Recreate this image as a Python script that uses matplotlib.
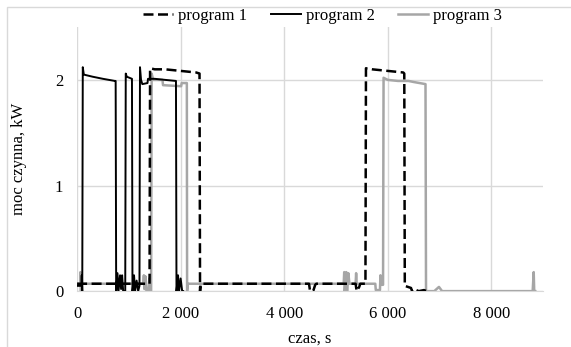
import matplotlib
matplotlib.use("Agg")
import matplotlib.pyplot as plt
from matplotlib.ticker import FuncFormatter, MultipleLocator
from matplotlib.patches import Rectangle

# program 1 (dashed black)
t1 = [0, 1400, 1410, 1500, 1700, 1900, 2100, 2300, 2365, 2375, 2390,
      3000, 3500, 4000, 4480, 4500, 4560, 4600, 4620, 5000, 5380, 5400,
      5450, 5470, 5570, 5580, 5700, 5900, 6100, 6300, 6320, 6330, 6450,
      6470, 6500, 6600, 6700, 6750]
p1 = [0.07, 0.07, 2.11, 2.10, 2.10, 2.09, 2.08, 2.07, 2.06, 0.0, 0.07,
      0.07, 0.07, 0.07, 0.07, 0.0, 0.0, 0.06, 0.07, 0.07, 0.07, 0.0,
      0.04, 0.07, 0.07, 2.11, 2.10, 2.09, 2.08, 2.07, 2.06, 0.05, 0.03,
      0.0, 0.02, 0.0, 0.01, 0.0]

# program 2 (solid black)
t2 = [0, 80, 90, 100, 110, 130, 300, 500, 730, 745, 755, 780, 800, 830,
      850, 870, 890, 930, 940, 960, 1060, 1070, 1100, 1120, 1150, 1180,
      1205, 1215, 1235, 1260, 1360, 1370, 1500, 1700, 1910, 1920, 1950,
      1970, 2000, 2030, 2050]
p2 = [0.05, 0.05, 0.15, 0.0, 2.12, 2.05, 2.03, 2.01, 1.99, 1.99, 0.0,
      0.17, 0.0, 0.15, 0.02, 0.15, 0.0, 0.0, 2.06, 2.03, 2.01, 0.0, 0.15,
      0.0, 0.1, 0.0, 0.05, 2.12, 2.0, 1.96, 1.97, 2.01, 2.01, 2.0, 1.99,
      0.0, 0.15, 0.0, 0.12, 0.0, 0.0]

# program 3 (grey)
t3 = [0, 60, 65, 75, 85, 95, 1280, 1290, 1300, 1320, 1340, 1380, 1395,
      1410, 1430, 1440, 1470, 1650, 1660, 2010, 2020, 2120, 2125, 2140,
      3000, 4000, 5150, 5160, 5170, 5200, 5215, 5240, 5260, 5380, 5390,
      5400, 5760, 5770, 5850, 5860, 5880, 5910, 5920, 6000, 6200, 6400,
      6500, 6730, 6740, 6900, 6990, 7050, 8000, 8800, 8820, 8830, 8850]
p3 = [0.07, 0.07, 0.18, 0.0, 0.17, 0.07, 0.07, 0.15, 0.02, 0.14, 0.0,
      0.0, 0.12, 0.0, 0.0, 2.06, 2.0, 2.0, 1.95, 1.94, 1.97, 1.97, 0.0,
      0.07, 0.07, 0.07, 0.07, 0.18, 0.0, 0.18, 0.0, 0.17, 0.07, 0.07,
      0.17, 0.07, 0.07, 0.01, 0.01, 0.15, 0.06, 0.06, 2.02, 2.0, 1.99,
      1.99, 1.98, 1.96, 0.0, 0.0, 0.04, 0.0, 0.0, 0.0, 0.18, 0.0, 0.0]

plt.rcParams["font.family"] = ["Liberation Serif", "DejaVu Serif"]
plt.rcParams["font.size"] = 12

fig = plt.figure(figsize=(5.71, 3.47), dpi=100)
ax = fig.add_axes([0.135, 0.161, 0.816, 0.761])

fig.patches.append(Rectangle((7 / 571, -0.1), 1.2, 1 - 7 / 347 + 0.1,
                             transform=fig.transFigure, fill=False,
                             edgecolor="#d9d9d9", linewidth=1))

ax.plot(t1, p1, color="black", linestyle=(0, (4, 1.8)), linewidth=1.8,
        label="program 1", zorder=3)
ax.plot(t2, p2, color="black", linewidth=1.4, label="program 2", zorder=4)
ax.plot(t3, p3, color="#a6a6a6", linewidth=1.8, label="program 3", zorder=2)

ax.set_xlim(0, 9000)
ax.set_ylim(0, 2.5)
ax.xaxis.set_major_locator(MultipleLocator(2000))
ax.yaxis.set_major_locator(MultipleLocator(1))
ax.xaxis.set_major_formatter(
    FuncFormatter(lambda v, p: f"{int(v):,}".replace(",", " ")))
ax.yaxis.set_major_formatter(FuncFormatter(lambda v, p: f"{int(v)}"))

for s in ["top", "right", "left"]:
    ax.spines[s].set_visible(False)
ax.spines["bottom"].set_color("#d9d9d9")
ax.grid(True, color="#d9d9d9", linewidth=1)
ax.set_axisbelow(True)
ax.tick_params(axis="x", length=0, pad=11)
ax.tick_params(axis="y", length=0, pad=10)

ax.set_xlabel("czas, s", labelpad=6)
ax.set_ylabel("moc czynna, kW", labelpad=20)

fig.legend(loc="center", bbox_to_anchor=(0.565, 0.955), ncol=3,
           frameon=False, handlelength=1.8, handletextpad=0.3,
           columnspacing=1.4, fontsize=12)

fig.savefig("out.png", dpi=100)
